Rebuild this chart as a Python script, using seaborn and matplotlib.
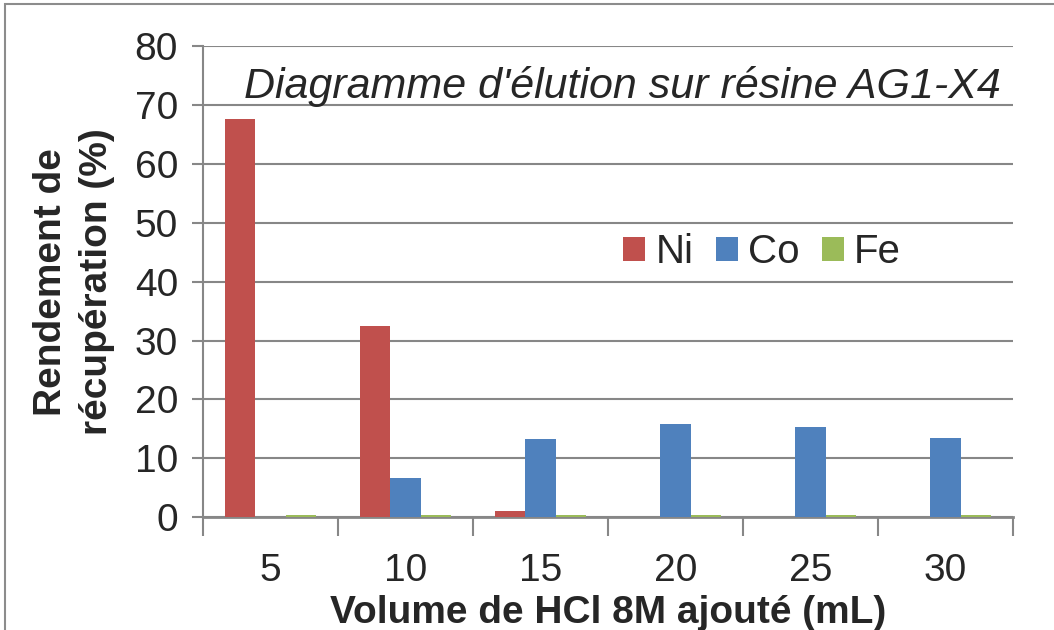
import numpy as np
import pandas as pd
import seaborn as sns
import matplotlib.pyplot as plt
from matplotlib.patches import Rectangle

# === Data ===
volumes = ["5", "10", "15", "20", "25", "30"]
ni = [67.6, 32.4, 1.0, 0.0, 0.0, 0.0]
co = [0.0, 6.7, 13.3, 15.9, 15.4, 13.4]
fe = [0.35, 0.35, 0.35, 0.35, 0.35, 0.35]
metals = ["Ni", "Co", "Fe"]
colors = ["#C0504D", "#4F81BD", "#9BBB59"]

df = pd.DataFrame({"volume": volumes * 3,
                   "metal": np.repeat(metals, len(volumes)),
                   "value": ni + co + fe})

sns.set_style("white")
plt.rcParams["font.family"] = ["Liberation Sans", "DejaVu Sans"]

fig = plt.figure(figsize=(10.54, 6.3), dpi=100)
ax = fig.add_axes([0.1926, 0.179, 0.7685, 0.748])

sns.barplot(data=df, x="volume", y="value", hue="metal", order=volumes,
            hue_order=metals, palette=colors, width=0.667, saturation=1,
            linewidth=0, ax=ax, zorder=3)

grid_c = "#878787"
ax.set_ylim(0, 80)
ax.set_xlim(-0.5, 5.5)
ax.set_yticks(range(0, 81, 10))
ax.yaxis.grid(True, color=grid_c, lw=1.5, zorder=0)
ax.set_axisbelow(True)
for s in ["top", "right"]:
    ax.spines[s].set_visible(False)
ax.spines["left"].set_color(grid_c)
ax.spines["bottom"].set_color(grid_c)
ax.spines["left"].set_linewidth(1.5)
ax.spines["bottom"].set_linewidth(2)

ax.tick_params(axis="y", length=8, width=1.5, color=grid_c, labelsize=28, pad=10, left=True)
ax.tick_params(axis="x", length=0, labelsize=28, pad=26)
ax.set_xticks(np.arange(-0.5, 6, 1), minor=True)
ax.tick_params(axis="x", which="minor", length=14, width=1.5, color=grid_c, bottom=True)

ax.set_xlabel("Volume de HCl 8M ajouté (mL)", fontsize=28, fontweight="bold", labelpad=4)
ax.set_ylabel("Rendement de\nrécupération (%)", fontsize=28, fontweight="bold",
              labelpad=14, linespacing=1.35)

ax.text(0.985, 0.915, "Diagramme d'élution sur résine AG1-X4", transform=ax.transAxes,
        ha="right", va="center", fontsize=31, style="italic")

ax.legend(loc="center", bbox_to_anchor=(0.69, 0.563), ncol=3, frameon=False,
          fontsize=29, handlelength=0.55, handleheight=0.55, handletextpad=0.25,
          columnspacing=0.55)

fig.patches.append(Rectangle((0.005, -0.05), 1.2, 1.043, transform=fig.transFigure,
                             fill=False, edgecolor="#8c8c8c", lw=1.5))

fig.savefig("out.png", dpi=100)
